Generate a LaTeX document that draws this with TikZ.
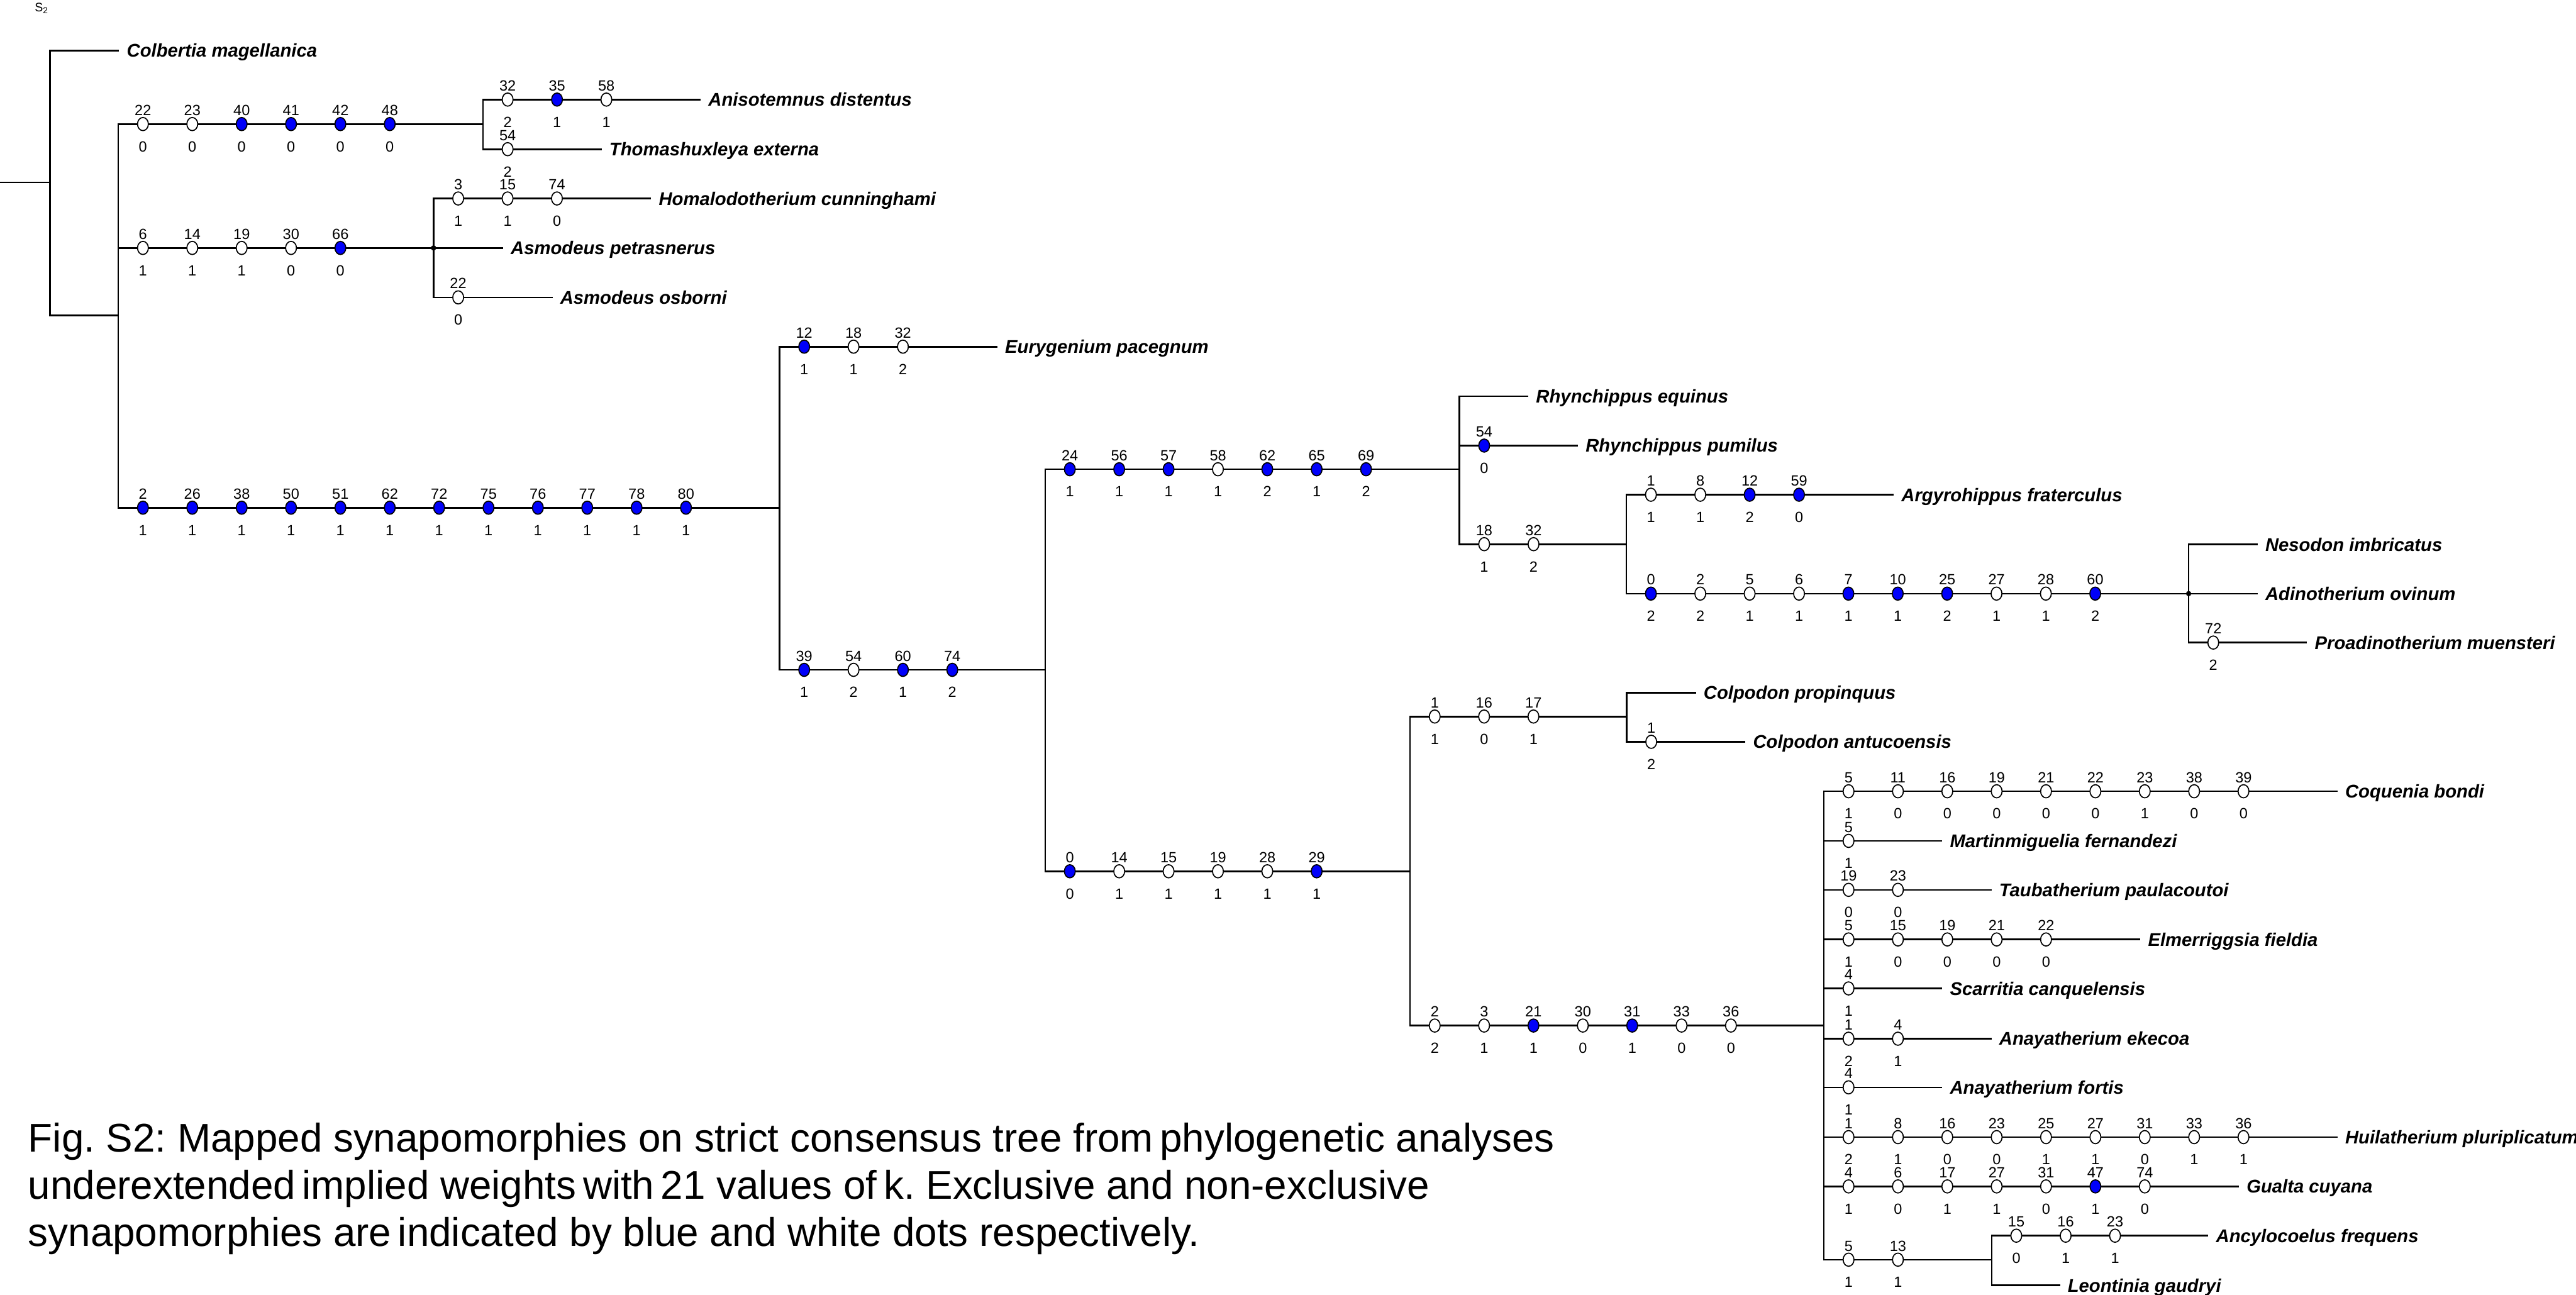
\documentclass[tikz,border=0pt]{standalone}
\usepackage{fontspec}
\setmainfont{Liberation Sans}
\usetikzlibrary{calc,shapes.geometric}
\frenchspacing
\definecolor{bl}{RGB}{0,0,250}
\colorlet{wh}{white}
\tikzset{
  br/.style={line width=1pt, line cap=rect},
  dot/.style={ellipse, draw, line width=0.65pt, minimum width=6.6pt, minimum height=8pt, inner sep=0pt},
  pdot/.style={circle, fill=black, minimum size=3.2pt, inner sep=0pt},
  num/.style={anchor=base, inner sep=0pt, font=\fontsize{9}{9}\selectfont},
  tax/.style={anchor=base west, inner sep=0pt, font=\fontsize{11.2}{11.2}\selectfont\bfseries\itshape},
  captxt/.style={anchor=base west, inner sep=0pt, font=\fontsize{24.4}{28.7}\selectfont}
}
\newcommand\hedge[4]{\coordinate (#1s) at (#2,#3); \coordinate (#1e) at (#4,#3); \draw[br] (#1s) -- (#1e);}
\newcommand\vedge[4]{\coordinate (#1t) at (#2,#3); \coordinate (#1b) at (#2,#4); \draw[br] (#1t) -- (#1b);}
\newcommand\taxon[3]{\node[tax] (#1) at ($(#2)+(5,4)$) {#3};}
\newcommand\dotrow[3]{%
  \foreach \cn/\sn/\fc [count=\i] in {#3}{
    \node[dot, fill=\fc] (#1d\i) at ($(#2)+({15+30.05*(\i-1)},0)$) {};
    \node[num] (#1a\i) at ($(#1d\i)+(0,-5.3)$) {\cn};
    \node[num] (#1b\i) at ($(#1d\i)+(0,16.8)$) {\sn};
  }}
\begin{document}
\begin{tikzpicture}[x=1pt,y=-1pt]
\useasboundingbox (0,0) rectangle (1568,788);
\node[anchor=base west, inner sep=0pt, font=\fontsize{7.5}{7.5}\selectfont] (fig) at (21,7) {S\textsubscript{2}};
% root
\coordinate (root) at (0,111);
\coordinate (nA) at (30.5,111);
\draw[br] (root) -- (nA);
\vedge{vA}{30.5}{30.7}{192}
\hedge{colb}{30.5}{30.7}{72} \taxon{tColb}{colbe}{Colbertia magellanica}
\hedge{ing}{30.5}{192}{72}
\vedge{vB}{72}{75.5}{309}
% Anisotemnus clade
\hedge{ca}{72}{75.5}{294} \dotrow{ca}{cas}{22/0/wh,23/0/wh,40/0/bl,41/0/bl,42/0/bl,48/0/bl}
\vedge{vC}{294}{60.6}{90.8}
\hedge{anis}{294}{60.6}{426} \dotrow{anis}{aniss}{32/2/wh,35/1/bl,58/1/wh} \taxon{tAnis}{anise}{Anisotemnus distentus}
\hedge{thom}{294}{90.8}{365.7} \dotrow{thom}{thoms}{54/2/wh} \taxon{tThom}{thome}{Thomashuxleya externa}
% Homalodotherium clade
\hedge{cb}{72}{150.9}{263.9} \dotrow{cb}{cbs}{6/1/wh,14/1/wh,19/1/wh,30/0/wh,66/0/bl}
\vedge{vCb}{263.9}{120.8}{181}
\hedge{homa}{263.9}{120.8}{395.8} \dotrow{homa}{homas}{3/1/wh,15/1/wh,74/0/wh} \taxon{tHoma}{homae}{Homalodotherium cunninghami}
\hedge{petr}{263.9}{150.9}{305.7} \taxon{tPetr}{petre}{Asmodeus petrasnerus}
\hedge{osbo}{263.9}{181}{335.8} \dotrow{osbo}{osbos}{22/0/wh} \taxon{tOsbo}{osboe}{Asmodeus osborni}
\node[pdot] (pCb) at (cbe) {};
% main stem
\hedge{d}{72}{309}{474.5} \dotrow{d}{ds}{2/1/bl,26/1/bl,38/1/bl,50/1/bl,51/1/bl,62/1/bl,72/1/bl,75/1/bl,76/1/bl,77/1/bl,78/1/bl,80/1/bl}
\vedge{vD}{474.5}{211}{407.7}
\hedge{eury}{474.5}{211}{606.6} \dotrow{eury}{eurys}{12/1/bl,18/1/wh,32/2/wh} \taxon{tEury}{eurye}{Eurygenium pacegnum}
\hedge{f}{474.5}{407.7}{636.2} \dotrow{f}{fs}{39/1/bl,54/2/wh,60/1/bl,74/2/bl}
\vedge{vF}{636.2}{285.6}{530.3}
% Rhynchippus clade
\hedge{g}{636.2}{285.6}{888.4} \dotrow{g}{gs}{24/1/bl,56/1/bl,57/1/bl,58/1/wh,62/2/bl,65/1/bl,69/2/bl}
\vedge{vG}{888.4}{241.1}{331.2}
\hedge{requ}{888.4}{241.1}{929.8} \taxon{tRequ}{reque}{Rhynchippus equinus}
\hedge{rpum}{888.4}{271.2}{960} \dotrow{rpum}{rpums}{54/0/bl} \taxon{tRpum}{rpume}{Rhynchippus pumilus}
\hedge{h}{888.4}{331.2}{989.9} \dotrow{h}{hs}{18/1/wh,32/2/wh}
\vedge{vH}{989.9}{301.1}{361.3}
\hedge{argy}{989.9}{301.1}{1152.2} \dotrow{argy}{argys}{1/1/wh,8/1/wh,12/2/bl,59/0/bl} \taxon{tArgy}{argye}{Argyrohippus fraterculus}
\hedge{ni}{989.9}{361.3}{1332.2} \dotrow{ni}{nis}{0/2/bl,2/2/wh,5/1/wh,6/1/wh,7/1/bl,10/1/bl,25/2/bl,27/1/wh,28/1/wh,60/2/bl}
\vedge{vI}{1332.2}{331.4}{391.1}
\hedge{neso}{1332.2}{331.4}{1373.7} \taxon{tNeso}{nesoe}{Nesodon imbricatus}
\hedge{adin}{1332.2}{361.3}{1373.7} \taxon{tAdin}{adine}{Adinotherium ovinum}
\hedge{proa}{1332.2}{391.1}{1403.8} \dotrow{proa}{proas}{72/2/wh} \taxon{tProa}{proae}{Proadinotherium muensteri}
\node[pdot] (pI) at (nie) {};
% lower clade
\hedge{j}{636.2}{530.3}{858.3} \dotrow{j}{js}{0/0/bl,14/1/wh,15/1/wh,19/1/wh,28/1/wh,29/1/bl}
\vedge{vJ}{858.3}{436.1}{624.2}
\hedge{k}{858.3}{436.1}{990.1} \dotrow{k}{ks}{1/1/wh,16/0/wh,17/1/wh}
\vedge{vK}{990.1}{421.6}{451.5}
\hedge{cpro}{990.1}{421.6}{1031.8} \taxon{tCpro}{cproe}{Colpodon propinquus}
\hedge{cant}{990.1}{451.5}{1061.9} \dotrow{cant}{cants}{1/2/wh} \taxon{tCant}{cante}{Colpodon antucoensis}
\hedge{l}{858.3}{624.2}{1110.2} \dotrow{l}{ls}{2/2/wh,3/1/wh,21/1/bl,30/0/wh,31/1/bl,33/0/wh,36/0/wh}
\vedge{vL}{1110.2}{481.6}{766.7}
\hedge{coqu}{1110.2}{481.6}{1422.3} \dotrow{coqu}{coqus}{5/1/wh,11/0/wh,16/0/wh,19/0/wh,21/0/wh,22/0/wh,23/1/wh,38/0/wh,39/0/wh} \taxon{tCoqu}{coque}{Coquenia bondi}
\hedge{mart}{1110.2}{511.8}{1181.7} \dotrow{mart}{marts}{5/1/wh} \taxon{tMart}{marte}{Martinmiguelia fernandezi}
\hedge{taub}{1110.2}{541.6}{1211.7} \dotrow{taub}{taubs}{19/0/wh,23/0/wh} \taxon{tTaub}{taube}{Taubatherium paulacoutoi}
\hedge{elme}{1110.2}{571.8}{1302.3} \dotrow{elme}{elmes}{5/1/wh,15/0/wh,19/0/wh,21/0/wh,22/0/wh} \taxon{tElme}{elmee}{Elmerriggsia fieldia}
\hedge{scar}{1110.2}{601.6}{1181.7} \dotrow{scar}{scars}{4/1/wh} \taxon{tScar}{scare}{Scarritia canquelensis}
\hedge{ekec}{1110.2}{632.2}{1211.7} \dotrow{ekec}{ekecs}{1/2/wh,4/1/wh} \taxon{tEkec}{ekece}{Anayatherium ekecoa}
\hedge{fort}{1110.2}{661.8}{1181.7} \dotrow{fort}{forts}{4/1/wh} \taxon{tFort}{forte}{Anayatherium fortis}
\hedge{huil}{1110.2}{692.1}{1422.3} \dotrow{huil}{huils}{1/2/wh,8/1/wh,16/0/wh,23/0/wh,25/1/wh,27/1/wh,31/0/wh,33/1/wh,36/1/wh} \taxon{tHuil}{huile}{Huilatherium pluriplicatum}
\hedge{gual}{1110.2}{722.1}{1362.3} \dotrow{gual}{guals}{4/1/wh,6/0/wh,17/1/wh,27/1/wh,31/0/wh,47/1/bl,74/0/wh} \taxon{tGual}{guale}{Gualta cuyana}
\hedge{m}{1110.2}{766.7}{1212.3} \dotrow{m}{ms}{5/1/wh,13/1/wh}
\vedge{vM}{1212.3}{752.1}{782.3}
\hedge{ancy}{1212.3}{752.1}{1343.7} \dotrow{ancy}{ancys}{15/0/wh,16/1/wh,23/1/wh} \taxon{tAncy}{ancye}{Ancylocoelus frequens}
\hedge{leon}{1212.3}{782.3}{1253.4} \taxon{tLeon}{leone}{Leontinia gaudryi}
% caption
\node[captxt] (capA) at (17,701) {Fig. S2: Mapped synapomorphies on strict consensus tree from\,phylogenetic analyses};
\node[captxt] (capB) at (17,729.7) {underextended\,implied weights\,with\,21 values of\,k. Exclusive and non-exclusive};
\node[captxt] (capC) at (17,758.4) {synapomorphies are\,indicated by blue and white dots respectively.};
\end{tikzpicture}
\end{document}
